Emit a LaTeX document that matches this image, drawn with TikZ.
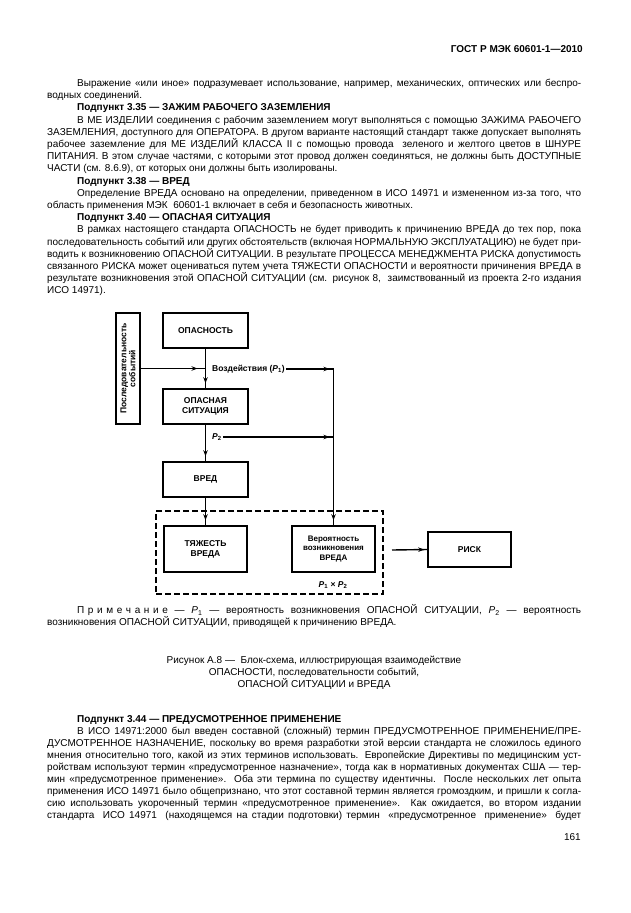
\documentclass[tikz,border=0pt]{standalone}
\usepackage{fontspec}
\usepackage{graphicx}
\setmainfont{Liberation Sans}
\usetikzlibrary{arrows.meta,decorations.markings}

\newcommand\jfull[2]{\node[anchor=base west,inner sep=0pt] at (47,#1) {\makebox[534pt][s]{#2}};}
\newcommand\jind[2]{\node[anchor=base west,inner sep=0pt] at (77,#1) {\makebox[504pt][s]{#2}};}
\newcommand\lfull[2]{\node[anchor=base west,inner sep=0pt] at (47,#1) {#2};}
\newcommand\lind[2]{\node[anchor=base west,inner sep=0pt] at (77,#1) {#2};}
\newcommand\spc{\kern3.6pt}
\newcommand\bodyfont{\fontsize{10}{12}\selectfont}

\tikzset{
  blk/.style={draw, line width=1.6pt, inner sep=0pt, align=center,
    font=\fontsize{8.5}{10}\selectfont\bfseries},
  lab/.style={inner sep=1pt, font=\fontsize{8.5}{10}\selectfont\bfseries},
  conn/.style={line width=1.4pt},
  arrend/.style={conn, postaction={decorate},
    decoration={markings, mark=at position -#1 with {\arrow{Stealth[length=6pt,width=4.5pt]}}}},
  arrend/.default=5pt
}

\begin{document}
\begin{tikzpicture}[x=1pt,y=-1pt, every node/.style={font=\bodyfont}]
\fill[white] (0,0) rectangle (630,913);
\useasboundingbox (0,0) rectangle (630,913);

% header
\node[anchor=base east,inner sep=0pt,font=\fontsize{10}{12}\selectfont\bfseries] (hdr) at (583,52) {ГОСТ Р МЭК 60601-1—2010};

% block 1
\jind{86.5}{Выражение «или иное» подразумевает использование, например, механических, оптических или беспро-}
\lfull{98.7}{водных соединений.}
\lind{110.9}{\bfseries Подпункт 3.35 — ЗАЖИМ РАБОЧЕГО ЗАЗЕМЛЕНИЯ}
\jind{123.1}{В МЕ ИЗДЕЛИИ соединения с рабочим заземлением могут выполняться с помощью ЗАЖИМА РАБОЧЕГО}
\jfull{135.3}{ЗАЗЕМЛЕНИЯ, доступного для ОПЕРАТОРА. В другом варианте настоящий стандарт также допускает выполнять}
\jfull{147.5}{рабочее заземление для МЕ ИЗДЕЛИЙ КЛАССА II с помощью провода~ зеленого и желтого цветов в ШНУРЕ}
\jfull{159.7}{ПИТАНИЯ. В этом случае частями, с которыми этот провод должен соединяться, не должны быть ДОСТУПНЫЕ}
\lfull{171.9}{ЧАСТИ (см. 8.6.9), от которых они должны быть изолированы.}
\lind{184.1}{\bfseries Подпункт 3.38 — ВРЕД}
\jind{196.3}{Определение ВРЕДА основано на определении, приведенном в ИСО 14971 и измененном из-за того, что}
\lfull{208.5}{область применения МЭК~~60601-1 включает в себя и безопасность животных.}
\lind{220.7}{\bfseries Подпункт 3.40 — ОПАСНАЯ СИТУАЦИЯ}
\jind{232.9}{В рамках настоящего стандарта ОПАСНОСТЬ не будет приводить к причинению ВРЕДА до тех пор, пока}
\jfull{245.1}{последовательность событий или других обстоятельств (включая НОРМАЛЬНУЮ ЭКСПЛУАТАЦИЮ) не будет при-}
\jfull{257.3}{водить к возникновению ОПАСНОЙ СИТУАЦИИ. В результате ПРОЦЕССА МЕНЕДЖМЕНТА РИСКА допустимость}
\jfull{269.5}{связанного РИСКА может оцениваться путем учета ТЯЖЕСТИ ОПАСНОСТИ и вероятности причинения ВРЕДА в}
\jfull{281.7}{результате возникновения этой ОПАСНОЙ СИТУАЦИИ (см. рисунок 8,~ заимствованный из проекта 2-го издания}
\lfull{293.9}{ИСО 14971).}

% diagram
\node[blk, minimum width=24pt, minimum height=111pt] (seq) at (128,368.5)
  {\rotatebox{90}{\parbox{106pt}{\centering\fontsize{8.5}{9}\selectfont\bfseries Последовательность\\событий}}};
\node[blk, minimum width=85pt, minimum height=35pt] (haz) at (205.5,330.5) {ОПАСНОСТЬ};
\node[blk, minimum width=85pt, minimum height=35pt] (hs) at (205.5,406.5) {ОПАСНАЯ\\СИТУАЦИЯ};
\node[blk, minimum width=85pt, minimum height=35pt] (harm) at (205.5,479.5) {ВРЕД};
\node[draw, dashed, line width=1.1pt, dash pattern=on 6pt off 3pt, minimum width=227pt, minimum height=83pt, inner sep=0pt] (frame) at (269.5,552.5) {};
\node[blk, minimum width=83pt, minimum height=46pt] (sev) at (205.5,549) {ТЯЖЕСТЬ\\ВРЕДА};
\node[blk, minimum width=83pt, minimum height=46pt, font=\fontsize{8}{9.5}\selectfont\bfseries] (prob) at (333.5,549) {Вероятность\\возникновения\\ВРЕДА};
\node[blk, minimum width=83pt, minimum height=35pt] (risk) at (469.5,549.5) {РИСК};
\node[lab] (pp) at (333,585) {\textit{P}\textsubscript{1} × \textit{P}\textsubscript{2}};

\node[lab, anchor=west] (act) at (211,369) {Воздействия (\textit{P}\textsubscript{1})};
\node[lab, anchor=west] (p2) at (211,437) {\textit{P}\textsubscript{2}};

\coordinate (j1) at (seq.east -| haz.south);
\coordinate (c1) at (prob.north |- act.east);
\coordinate (c2) at (prob.north |- p2.east);
\coordinate (rs) at (392,550);

\draw[arrend=8pt] (seq.east) -- (j1);
\draw[arrend] (haz.south) -- (hs.north);
\draw[arrend] (hs.south) -- (harm.north);
\draw[arrend] (harm.south) -- (sev.north);
\draw[arrend=4pt] (act.east) -- (c1);
\draw[arrend] (c1) -- (prob.north);
\draw[arrend=4pt] (p2.east) -- (c2);
\draw[arrend=3pt] (rs) -- (risk.west);

% note
\jind{613.5}{П\spc р\spc и\spc м\spc е\spc ч\spc а\spc н\spc и\spc е — \textit{P}\textsubscript{1} — вероятность возникновения ОПАСНОЙ СИТУАЦИИ, \textit{P}\textsubscript{2} — вероятность}
\lfull{625.5}{возникновения ОПАСНОЙ СИТУАЦИИ, приводящей к причинению ВРЕДА.}

% caption
\node[anchor=base,inner sep=0pt] (cap1) at (314,663.5) {Рисунок А.8 —~ Блок-схема, иллюстрирующая взаимодействие};
\node[anchor=base,inner sep=0pt] (cap2) at (314,675.5) {ОПАСНОСТИ, последовательности событий,};
\node[anchor=base,inner sep=0pt] (cap3) at (314,687.5) {ОПАСНОЙ СИТУАЦИИ и ВРЕДА};

% last paragraph
\lind{722.5}{\bfseries Подпункт 3.44 — ПРЕДУСМОТРЕННОЕ ПРИМЕНЕНИЕ}
\jind{734.5}{В ИСО 14971:2000 был введен составной (сложный) термин ПРЕДУСМОТРЕННОЕ ПРИМЕНЕНИЕ/ПРЕ-}
\jfull{746.5}{ДУСМОТРЕННОЕ НАЗНАЧЕНИЕ, поскольку во время разработки этой версии стандарта не сложилось единого}
\jfull{758.5}{мнения относительно того, какой из этих терминов использовать. Европейские Директивы по медицинским уст-}
\jfull{770.5}{ройствам используют термин «предусмотренное назначение», тогда как в нормативных документах США — тер-}
\jfull{782.5}{мин «предусмотренное применение». Оба эти термина по существу идентичны. После нескольких лет опыта}
\jfull{794.5}{применения ИСО 14971 было общепризнано, что этот составной термин является громоздким, и пришли к согла-}
\jfull{806.5}{сию использовать укороченный термин «предусмотренное применение». Как ожидается, во втором издании}
\jfull{818.5}{стандарта~ ИСО 14971~ (находящемся на стадии подготовки) термин~ «предусмотренное~ применение»~ будет}

\node[anchor=base east,inner sep=0pt] (pg) at (581,840.5) {161};
\end{tikzpicture}
\end{document}
